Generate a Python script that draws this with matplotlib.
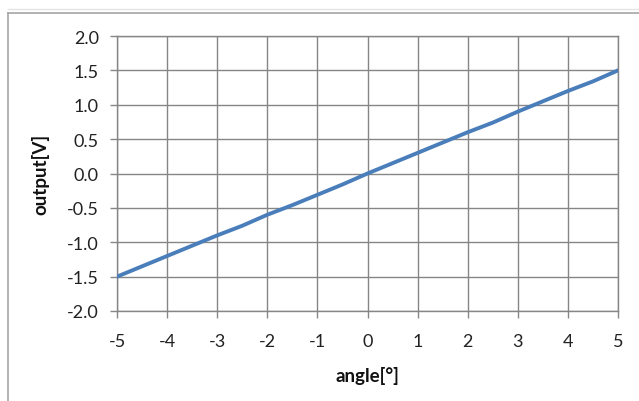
import numpy as np
import matplotlib as mpl
mpl.use('Agg')
import matplotlib.pyplot as plt
from matplotlib.lines import Line2D

# data (sensor output vs. angle)
angle = [-5.0, -4.5, -4.0, -3.5, -3.0, -2.5, -2.0, -1.5, -1.0, -0.5,
         0.0, 0.5, 1.0, 1.5, 2.0, 2.5, 3.0, 3.5, 4.0, 4.5, 5.0]
output = [-1.50, -1.35, -1.20, -1.05, -0.90, -0.76, -0.60, -0.46, -0.31, -0.16,
          0.00, 0.15, 0.30, 0.45, 0.60, 0.74, 0.90, 1.05, 1.20, 1.34, 1.50]

xticks = [-5, -4, -3, -2, -1, 0, 1, 2, 3, 4, 5]
yticks = [-2.0, -1.5, -1.0, -0.5, 0.0, 0.5, 1.0, 1.5, 2.0]

grid_color = '#868686'
line_color = '#4a7ebb'
ftsize = 13

plt.rc('font', family=['Lato', 'DejaVu Sans'], size=ftsize)

W, H = 639, 402
fig = plt.figure(figsize=(W/100, H/100), dpi=100)
ax = fig.add_axes([117/W, 1-312/H, (618-117)/W, (312-37)/H])

ax.plot(angle, output, color=line_color, lw=2.8, solid_capstyle='round', zorder=3)

ax.set_xlim(-5, 5)
ax.set_ylim(-2, 2)
ax.set_xticks(xticks)
ax.set_yticks(yticks)
ax.set_xticklabels(['{:d}'.format(t) for t in xticks])
ax.set_yticklabels(['{:.1f}'.format(t) for t in yticks])
ax.grid(True, color=grid_color, lw=1.0)
ax.set_axisbelow(True)
for s in ax.spines.values():
    s.set_color(grid_color)
    s.set_linewidth(1.0)
ax.tick_params(axis='both', direction='out', length=5, width=1.0,
               color=grid_color, labelcolor='#222222')
ax.tick_params(axis='y', pad=8)
ax.tick_params(axis='x', pad=11)

ax.set_xlabel('angle[°]', fontweight='bold', fontsize=13.5, labelpad=12, color='#111111')
ax.set_ylabel('output[V]', fontweight='bold', fontsize=13.5, labelpad=13, color='#111111')

# outer chart frame (Excel chart area border)
fig.add_artist(Line2D([8/W, 8/W], [0, 1-14/H], transform=fig.transFigure,
                      color='#a6a6a6', lw=1.2))
fig.add_artist(Line2D([8/W, 1], [1-14/H, 1-14/H], transform=fig.transFigure,
                      color='#a6a6a6', lw=1.2))
fig.add_artist(Line2D([8/W, 1], [1-10/H, 1-10/H], transform=fig.transFigure,
                      color='#e4e4e4', lw=1.0))

fig.savefig('out.png', dpi=100)
